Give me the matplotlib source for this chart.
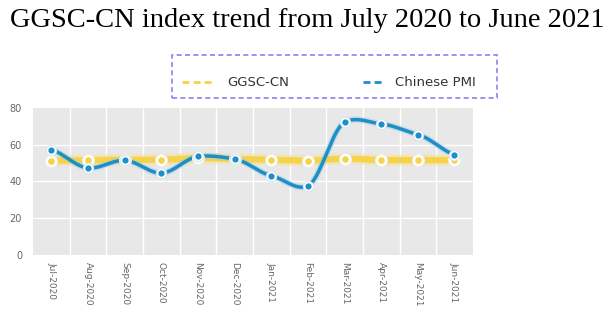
import numpy as np
import matplotlib.pyplot as plt
from matplotlib.lines import Line2D
from matplotlib.patches import FancyBboxPatch

months = ["Jul-2020", "Aug-2020", "Sep-2020", "Oct-2020", "Nov-2020", "Dec-2020",
          "Jan-2021", "Feb-2021", "Mar-2021", "Apr-2021", "May-2021", "Jun-2021"]
ggsc_cn = [51.3, 51.5, 51.8, 51.8, 52.7, 52.2, 51.8, 51.3, 52.4, 51.6, 51.6, 51.5]
chinese_pmi = [57.3, 47.3, 51.5, 44.5, 53.6, 52.2, 43.1, 37.6, 72.2, 71.3, 65.5, 54.5]

YELLOW = "#f6d34a"
BLUE = "#1b8fc6"


def smooth(x, y, n=20, k=0.6):
    # cardinal (Hermite) spline through the points, k scales the tangents
    x = np.asarray(x, float)
    y = np.asarray(y, float)
    m = np.gradient(y, x) * k
    t = np.linspace(0, 1, n, endpoint=False)
    h00 = 2 * t ** 3 - 3 * t ** 2 + 1
    h10 = t ** 3 - 2 * t ** 2 + t
    h01 = -2 * t ** 3 + 3 * t ** 2
    h11 = t ** 3 - t ** 2
    xs, ys = [], []
    for i in range(len(x) - 1):
        d = x[i + 1] - x[i]
        xs.append(x[i] + d * t)
        ys.append(h00 * y[i] + h10 * d * m[i] + h01 * y[i + 1] + h11 * d * m[i + 1])
    xs.append([x[-1]])
    ys.append([y[-1]])
    return np.concatenate(xs), np.concatenate(ys)


fig = plt.figure(figsize=(6.14, 3.22), dpi=100)
fig.text(0.5, 0.937, "GGSC-CN index trend from July 2020 to June 2021",
         ha="center", va="center", family="Liberation Serif", fontsize=20.5)

ax = fig.add_axes([0.054, 0.208, 0.716, 0.457])
ax.set_facecolor("#e8e8e8")
x = np.arange(len(months))

# white separators between month bands, horizontal grid on y ticks
for b in np.arange(0.5, len(months) - 1, 1):
    ax.axvline(b, color="white", lw=1.0, zorder=1)
for v in [20, 40, 60]:
    ax.axhline(v, color="white", lw=1.0, zorder=1)

sx, sy = smooth(x, ggsc_cn)
ax.plot(sx, sy, color="#f3e3a0", lw=8, alpha=0.6, zorder=2, solid_capstyle="round")
ax.plot(sx, sy, color=YELLOW, lw=4.5, zorder=3, solid_capstyle="round")
sx, sy = smooth(x, chinese_pmi)
ax.plot(sx, sy, color="#9cc8de", lw=4.5, alpha=0.45, zorder=4, solid_capstyle="round")
ax.plot(sx, sy, color=BLUE, lw=2.5, zorder=5, solid_capstyle="round")

ax.scatter(x, ggsc_cn, s=75, color="white", edgecolor="#eeeeee", lw=0.8, zorder=6)
ax.scatter(x, ggsc_cn, s=14, color=YELLOW, zorder=7)
ax.scatter(x, chinese_pmi, s=55, color="white", edgecolor="#d8e8f0", lw=0.8, zorder=8)
ax.scatter(x, chinese_pmi, s=12, color=BLUE, zorder=9)

ax.set_xlim(-0.5, len(months) - 0.5)
ax.set_ylim(0, 80)
ax.set_yticks([0, 20, 40, 60, 80])
ax.set_xticks(x)
ax.set_xticklabels(months, rotation=270, fontsize=6.5, color="#666666")
ax.tick_params(axis="y", labelsize=7, colors="#666666", length=0, pad=8)
ax.tick_params(axis="x", length=0, pad=5)
for s in ax.spines.values():
    s.set_visible(False)

# legend frame and entries
frame = FancyBboxPatch((0.280, 0.696), 0.529, 0.133, boxstyle="square,pad=0",
                       transform=fig.transFigure, fill=False, edgecolor="#8b7ff0",
                       lw=1.2, linestyle=(0, (3, 2)))
fig.add_artist(frame)
fig.add_artist(Line2D([0.296, 0.345], [0.745, 0.745], transform=fig.transFigure,
                      color=YELLOW, lw=2, linestyle=(0, (2.5, 1.5))))
fig.text(0.370, 0.745, "GGSC-CN", ha="left", va="center", fontsize=9.5, color="#333333")
fig.add_artist(Line2D([0.591, 0.624], [0.745, 0.745], transform=fig.transFigure,
                      color=BLUE, lw=2, linestyle=(0, (2.5, 1.5))))
fig.text(0.643, 0.745, "Chinese PMI", ha="left", va="center", fontsize=9.5, color="#333333")

fig.savefig("out.png", dpi=100)
